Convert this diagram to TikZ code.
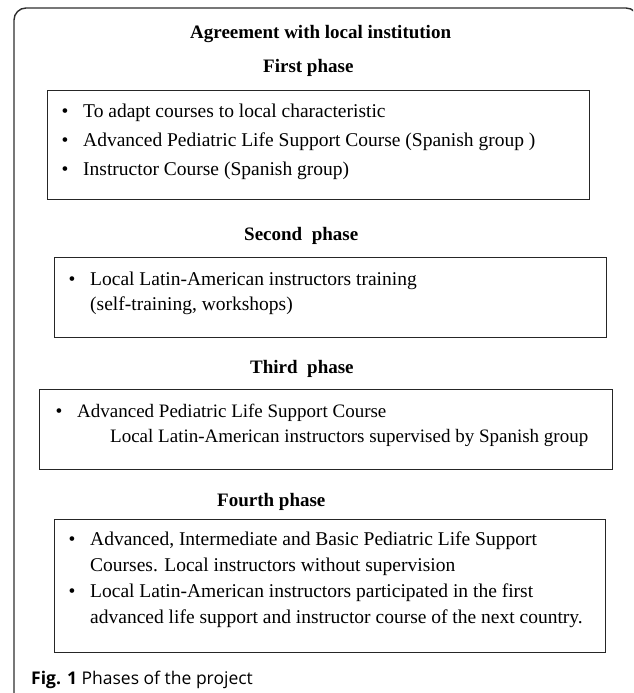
\documentclass[tikz,border=0pt]{standalone}
\usepackage{fontspec}
\setmainfont{Liberation Serif}
\newfontfamily\capfont{Open Sans}
\definecolor{framegray}{HTML}{2E2E2E}
\definecolor{boxgray}{HTML}{262626}
\tikzset{
  phasebox/.style={draw=boxgray, line width=1.3pt, anchor=north west, inner sep=0pt},
  heading/.style={font=\fontsize{19}{23}\selectfont\bfseries, anchor=base west, inner sep=0pt},
  itemtext/.style={font=\fontsize{19.5}{24}\selectfont, anchor=base west, inner sep=0pt},
  smalltext/.style={font=\fontsize{19}{23}\selectfont, anchor=base west, inner sep=0pt},
  bul/.style={font=\fontsize{19.5}{24}\selectfont, anchor=base, inner sep=0pt},
  captext/.style={font=\capfont\fontsize{17.5}{20}\selectfont, anchor=base west, inner sep=0pt}
}
\begin{document}
\begin{tikzpicture}[x=1pt,y=-1pt]
\useasboundingbox (0,0) rectangle (633,693);
\clip (0,0) rectangle (633,693);
% outer frame
\draw[framegray, line width=1.4pt, rounded corners=12pt] (14,700) -- (14,8) -- (638,8) -- (638,700);

\node[heading] (agree) at (190,39) {Agreement with local institution};

% first phase
\node[heading] (h1) at (263,73) {First phase};
\node[phasebox, minimum width=542pt, minimum height=109pt] (b1) at (47,90) {};
\node[bul] (b1d1) at (65,117) {•};
\node[itemtext] (b1t1) at (83,117) {To adapt courses to local characteristic};
\node[bul] (b1d2) at (65,146) {•};
\node[itemtext] (b1t2) at (83,146) {Advanced Pediatric Life Support Course (Spanish group )};
\node[bul] (b1d3) at (65,175) {•};
\node[itemtext] (b1t3) at (83,175) {Instructor Course (Spanish group)};

% second phase
\node[heading] (h2) at (244,240) {Second~ phase};
\node[phasebox, minimum width=552pt, minimum height=80pt] (b2) at (54,257) {};
\node[bul] (b2d1) at (72,285) {•};
\node[itemtext] (b2t1) at (90,285) {Local Latin-American instructors training};
\node[itemtext] (b2t2) at (90,310) {(self-training, workshops)};

% third phase
\node[heading] (h3) at (250,373) {Third~ phase};
\node[phasebox, minimum width=573pt, minimum height=80pt] (b3) at (39,389) {};
\node[bul] (b3d1) at (59,417) {•};
\node[smalltext] (b3t1) at (77,417) {Advanced Pediatric Life Support Course};
\node[smalltext] (b3t2) at (110,442) {Local Latin-American instructors supervised by Spanish group};

% fourth phase
\node[heading] (h4) at (217,506) {Fourth phase};
\node[phasebox, minimum width=551pt, minimum height=133pt] (b4) at (54,519) {};
\node[bul] (b4d1) at (72,545) {•};
\node[itemtext] (b4t1) at (90,545) {Advanced, Intermediate and Basic Pediatric Life Support};
\node[itemtext] (b4t2) at (90,571) {Courses. Local instructors without supervision};
\node[bul] (b4d2) at (72,597) {•};
\node[itemtext] (b4t3) at (90,597) {Local Latin-American instructors participated in the first};
\node[itemtext] (b4t4) at (90,623) {advanced life support and instructor course of the next country.};

% caption
\node[captext] (cap) at (31,684) {\textbf{Fig. 1} Phases of the project};
\end{tikzpicture}
\end{document}
